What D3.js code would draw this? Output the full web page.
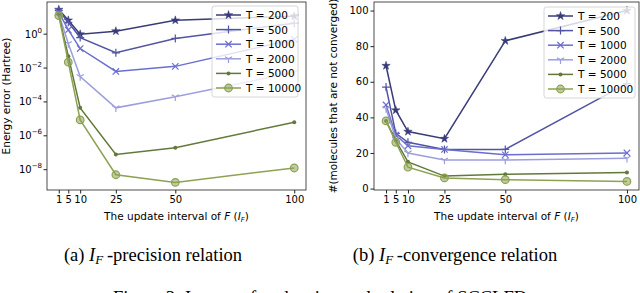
<!DOCTYPE html>
<html>
<head>
<meta charset="utf-8">
<script src="https://cdn.jsdelivr.net/npm/d3@7"></script>
<style>
  body { margin: 0; background: #fff; }
  text { font-family: "DejaVu Sans", sans-serif; }
</style>
</head>
<body>
<svg id="fig" width="640" height="293"></svg>
<script>
// update interval values
var intervals = [1, 5, 10, 25, 50, 100];
var seriesNames = ["T = 200", "T = 500", "T = 1000", "T = 2000", "T = 5000", "T = 10000"];
var seriesColors = ["#393b79", "#5254a3", "#6b6ecf", "#9c9ede", "#637939", "#8ca252"];
var seriesMarkers = ["star", "plus", "x", "tri", "dot", "circle"];

// energy error, log10 values
var errT200 = [1.45, 0.82, 0.0, 0.18, 0.82, 1.06];
var errT500 = [1.4, 0.7, -0.2, -1.1, -0.25, 0.65];
var errT1000 = [1.3, 0.25, -0.85, -2.2, -1.9, -0.3];
var errT2000 = [1.2, -0.55, -2.5, -4.35, -3.7, -2.25];
var errT5000 = [1.15, -1.3, -4.35, -7.1, -6.7, -5.2];
var errT10000 = [1.1, -1.65, -5.06, -8.3, -8.75, -7.9];

// number of molecules not converged, panel (b)
var ncT200 = [69, 44, 32, 28, 83, 100];
var ncT500 = [57, 31, 26, 22, 22, 59];
var ncT1000 = [47, 30, 24, 22, 19, 20];
var ncT2000 = [45, 28, 20, 16, 16, 17];
var ncT5000 = [38, 27, 15, 7, 8, 9];
var ncT10000 = [38, 26, 12, 6, 5, 4];

var yTicksLeft = [0, -2, -4, -6, -8];
var yTicksRight = [0, 20, 40, 60, 80, 100];

var errData = [errT200, errT500, errT1000, errT2000, errT5000, errT10000];
var ncData = [ncT200, ncT500, ncT1000, ncT2000, ncT5000, ncT10000];

var svg = d3.select("#fig");

function drawMarker(g, type, color, x, y) {
  if (type == "star") {
    g.append("path").attr("d", d3.symbol(d3.symbolStar, 22)())
      .attr("transform", "translate(" + x + "," + y + ")")
      .attr("fill", color).attr("stroke", color).attr("stroke-width", 0.5);
  } else if (type == "plus") {
    g.append("path").attr("d", "M" + (x - 4) + "," + y + "h8M" + x + "," + (y - 4) + "v8")
      .attr("stroke", color).attr("stroke-width", 1.2).attr("fill", "none");
  } else if (type == "x") {
    g.append("path").attr("d", "M" + (x - 3.2) + "," + (y - 3.2) + "l6.4,6.4M" + (x - 3.2) + "," + (y + 3.2) + "l6.4,-6.4")
      .attr("stroke", color).attr("stroke-width", 1.2).attr("fill", "none");
  } else if (type == "tri") {
    g.append("path").attr("d", "M" + x + "," + y + "v4.2M" + x + "," + y + "l-3.6,-2.1M" + x + "," + y + "l3.6,-2.1")
      .attr("stroke", color).attr("stroke-width", 1.2).attr("fill", "none");
  } else if (type == "dot") {
    g.append("circle").attr("cx", x).attr("cy", y).attr("r", 2).attr("fill", color);
  } else {
    g.append("circle").attr("cx", x).attr("cy", y).attr("r", 3.8)
      .attr("fill", color).attr("fill-opacity", 0.55)
      .attr("stroke", color).attr("stroke-width", 1.2);
  }
}

function drawPanel(opts) {
  var x = d3.scaleLinear().domain([-3.95, 104.95]).range([opts.left, opts.right]);
  var y = opts.y;
  var g = svg.append("g");

  // lines and markers
  opts.data.forEach(function (vals, k) {
    var pts = intervals.map(function (iv, i) { return [x(iv), y(vals[i])]; });
    g.append("path").attr("d", d3.line()(pts))
      .attr("fill", "none").attr("stroke", seriesColors[k]).attr("stroke-width", 1.5);
    pts.forEach(function (p) { drawMarker(g, seriesMarkers[k], seriesColors[k], p[0], p[1]); });
  });

  // frame
  g.append("rect").attr("x", opts.left).attr("y", opts.top)
    .attr("width", opts.right - opts.left).attr("height", opts.bottom - opts.top)
    .attr("fill", "none").attr("stroke", "#222").attr("stroke-width", 0.8);

  // x axis ticks
  var xa = g.append("g").attr("transform", "translate(0," + opts.bottom + ")")
    .call(d3.axisBottom(x).tickValues(intervals).tickSize(3.5).tickPadding(2));
  xa.select(".domain").remove();
  xa.selectAll("text").attr("font-size", 10).attr("fill", "#000")
    .style("font-family", "DejaVu Sans, sans-serif");
  xa.selectAll("line").attr("stroke", "#222");

  // x label
  var xl = g.append("text").attr("x", (opts.left + opts.right) / 2).attr("y", opts.bottom + 30)
    .attr("text-anchor", "middle").attr("font-size", 10.5);
  xl.append("tspan").text("The update interval of ");
  xl.append("tspan").attr("font-style", "italic").text("F");
  xl.append("tspan").text(" (");
  xl.append("tspan").attr("font-style", "italic").text("I");
  xl.append("tspan").attr("font-style", "italic").attr("font-size", 7).attr("dy", 2).text("F");
  xl.append("tspan").attr("dy", -2).text(")");

  opts.yAxis(g);

  // y label
  g.append("text").attr("transform", "translate(" + opts.ylabelX + "," + ((opts.top + opts.bottom) / 2) + ") rotate(-90)")
    .attr("text-anchor", "middle").attr("font-size", 10.5).text(opts.ylabel);

  // legend
  var lg = g.append("g");
  lg.append("rect").attr("x", opts.legX).attr("y", opts.legY).attr("width", opts.legW).attr("height", 91)
    .attr("rx", 2.5).attr("fill", "#fff").attr("fill-opacity", 0.8)
    .attr("stroke", "#ccc").attr("stroke-width", 0.8);
  seriesNames.forEach(function (name, k) {
    var ly = opts.legY + 9 + k * 14.6;
    lg.append("line").attr("x1", opts.legX + 4).attr("x2", opts.legX + 29)
      .attr("y1", ly).attr("y2", ly).attr("stroke", seriesColors[k]).attr("stroke-width", 1.5);
    drawMarker(lg, seriesMarkers[k], seriesColors[k], opts.legX + 16.5, ly);
    lg.append("text").attr("x", opts.legX + 34).attr("y", ly + 4).attr("font-size", 10.5).text(name);
  });

  // caption
  var cap = svg.append("text").attr("x", opts.capX).attr("y", 261)
    .attr("text-anchor", "middle").attr("font-size", 18.5)
    .style("font-family", "Liberation Serif, Times New Roman, serif");
  cap.append("tspan").text(opts.capPre + " ");
  cap.append("tspan").attr("font-style", "italic").text("I");
  cap.append("tspan").attr("font-style", "italic").attr("font-size", 13).attr("dy", 3).text("F");
  cap.append("tspan").attr("dy", -3).text("\u2009" + opts.capPost);
}

// panel (a)
var yLeft = d3.scaleLinear().domain([-9.2, 1.9]).range([190, 2]);
drawPanel({
  left: 47, right: 306, top: 2, bottom: 190,
  data: errData, y: yLeft,
  ylabel: "Energy error (Hartree)", ylabelX: 10,
  legX: 212, legY: 6, legW: 86,
  capX: 153, capPre: "(a)", capPost: "-precision relation",
  yAxis: function (g) {
    yTicksLeft.forEach(function (t) {
      var yy = yLeft(t);
      g.append("line").attr("x1", 47 - 3.5).attr("x2", 47).attr("y1", yy).attr("y2", yy).attr("stroke", "#222");
      var tx = g.append("text").attr("x", 42).attr("y", yy + 3.5).attr("text-anchor", "end").attr("font-size", 10);
      tx.append("tspan").text("10");
      tx.append("tspan").attr("font-size", 7).attr("dy", -5).text(t == 0 ? "0" : "\u2212" + (-t));
    });
  }
});

// panel (b)
var yRight = d3.scaleLinear().domain([-0.8, 104.8]).range([190, 2]);
drawPanel({
  left: 374, right: 639, top: 2, bottom: 190,
  data: ncData, y: yRight,
  ylabel: "#(molecules that are not converged)", ylabelX: 337,
  legX: 544, legY: 7, legW: 91,
  capX: 455, capPre: "(b)", capPost: "-convergence relation",
  yAxis: function (g) {
    var ya = g.append("g").attr("transform", "translate(374,0)")
      .call(d3.axisLeft(yRight).tickValues(yTicksRight).tickSize(3.5).tickPadding(2));
    ya.select(".domain").remove();
    ya.selectAll("text").attr("font-size", 10).attr("fill", "#000")
      .style("font-family", "DejaVu Sans, sans-serif");
    ya.selectAll("line").attr("stroke", "#222");
  }
});

// figure caption, mostly cut off at the bottom as in the source
svg.append("text").attr("x", 320).attr("y", 304).attr("text-anchor", "middle")
  .attr("font-size", 18.5).style("font-family", "Liberation Serif, Times New Roman, serif")
  .text("Figure 3: Impact of update interval relation of SCCLFD");
</script>
</body>
</html>
